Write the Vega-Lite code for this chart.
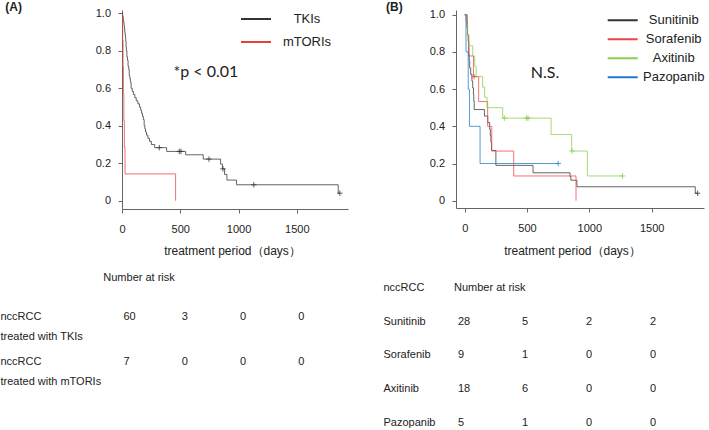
{
  "$schema": "https://vega.github.io/schema/vega-lite/v6.json",
  "autosize": {"type": "none"},
  "padding": {"left": 122, "top": 10, "right": 587, "bottom": 420},
  "background": "white",
  "config": {
    "view": {"stroke": null},
    "font": "Liberation Sans",
    "axis": {
      "domainColor": "#666666", "tickColor": "#666666", "labelColor": "#222222",
      "labelFont": "Liberation Sans", "labelFontSize": 11, "titleColor": "#222222",
      "titleFont": "Liberation Sans", "titleFontSize": 12, "titleFontWeight": "normal", "grid": false,
      "labelOverlap": false
    },
    "legend": {
      "orient": "none", "title": null, "symbolType": "stroke", "symbolSize": 900,
      "symbolStrokeWidth": 2, "symbolOpacity": 1, "labelAlign": "center", "labelOffset": 35,
      "labelFontSize": 13, "labelFont": "Liberation Sans", "labelColor": "#222222"
    }
  },
  "datasets": {
    "kmA": [
      {"group": "TKIs", "t": 0, "s": 1.0}, {"group": "TKIs", "t": 5, "s": 0.983}, {"group": "TKIs", "t": 10, "s": 0.967},
      {"group": "TKIs", "t": 14, "s": 0.95}, {"group": "TKIs", "t": 18, "s": 0.933}, {"group": "TKIs", "t": 21, "s": 0.917},
      {"group": "TKIs", "t": 24, "s": 0.9}, {"group": "TKIs", "t": 27, "s": 0.883}, {"group": "TKIs", "t": 30, "s": 0.867},
      {"group": "TKIs", "t": 32, "s": 0.85}, {"group": "TKIs", "t": 35, "s": 0.817}, {"group": "TKIs", "t": 38, "s": 0.8},
      {"group": "TKIs", "t": 42, "s": 0.767}, {"group": "TKIs", "t": 47, "s": 0.75}, {"group": "TKIs", "t": 52, "s": 0.717},
      {"group": "TKIs", "t": 58, "s": 0.7}, {"group": "TKIs", "t": 62, "s": 0.667}, {"group": "TKIs", "t": 68, "s": 0.65},
      {"group": "TKIs", "t": 72, "s": 0.633}, {"group": "TKIs", "t": 78, "s": 0.6}, {"group": "TKIs", "t": 88, "s": 0.583},
      {"group": "TKIs", "t": 98, "s": 0.567}, {"group": "TKIs", "t": 110, "s": 0.55}, {"group": "TKIs", "t": 122, "s": 0.533},
      {"group": "TKIs", "t": 136, "s": 0.517}, {"group": "TKIs", "t": 150, "s": 0.5}, {"group": "TKIs", "t": 160, "s": 0.483},
      {"group": "TKIs", "t": 168, "s": 0.467}, {"group": "TKIs", "t": 176, "s": 0.45}, {"group": "TKIs", "t": 183, "s": 0.433},
      {"group": "TKIs", "t": 190, "s": 0.4}, {"group": "TKIs", "t": 196, "s": 0.383}, {"group": "TKIs", "t": 202, "s": 0.367},
      {"group": "TKIs", "t": 210, "s": 0.35}, {"group": "TKIs", "t": 222, "s": 0.333}, {"group": "TKIs", "t": 236, "s": 0.317},
      {"group": "TKIs", "t": 252, "s": 0.3}, {"group": "TKIs", "t": 280, "s": 0.283}, {"group": "TKIs", "t": 383, "s": 0.263},
      {"group": "TKIs", "t": 546, "s": 0.245}, {"group": "TKIs", "t": 697, "s": 0.222}, {"group": "TKIs", "t": 846, "s": 0.195},
      {"group": "TKIs", "t": 862, "s": 0.17}, {"group": "TKIs", "t": 880, "s": 0.14}, {"group": "TKIs", "t": 900, "s": 0.11},
      {"group": "TKIs", "t": 983, "s": 0.085}, {"group": "TKIs", "t": 1855, "s": 0.04}, {"group": "TKIs", "t": 1869, "s": 0.04},
      {"group": "mTORIs", "t": 0, "s": 1.0}, {"group": "mTORIs", "t": 6, "s": 0.857}, {"group": "mTORIs", "t": 9, "s": 0.714},
      {"group": "mTORIs", "t": 12, "s": 0.571}, {"group": "mTORIs", "t": 16, "s": 0.429}, {"group": "mTORIs", "t": 20, "s": 0.286},
      {"group": "mTORIs", "t": 26, "s": 0.143}, {"group": "mTORIs", "t": 460, "s": 0.0}
    ],
    "censA": [
      {"group": "TKIs", "t": 320, "s": 0.283}, {"group": "TKIs", "t": 491, "s": 0.263}, {"group": "TKIs", "t": 506, "s": 0.263},
      {"group": "TKIs", "t": 746, "s": 0.222}, {"group": "TKIs", "t": 866, "s": 0.17}, {"group": "TKIs", "t": 1131, "s": 0.085},
      {"group": "TKIs", "t": 1869, "s": 0.04}
    ],
    "kmB": [
      {"group": "Sunitinib", "t": 0, "s": 1.0}, {"group": "Sunitinib", "t": 12, "s": 0.964}, {"group": "Sunitinib", "t": 18, "s": 0.929},
      {"group": "Sunitinib", "t": 22, "s": 0.893}, {"group": "Sunitinib", "t": 28, "s": 0.857}, {"group": "Sunitinib", "t": 33, "s": 0.821},
      {"group": "Sunitinib", "t": 34, "s": 0.786}, {"group": "Sunitinib", "t": 36, "s": 0.75}, {"group": "Sunitinib", "t": 40, "s": 0.714},
      {"group": "Sunitinib", "t": 48, "s": 0.679}, {"group": "Sunitinib", "t": 58, "s": 0.643}, {"group": "Sunitinib", "t": 64, "s": 0.607},
      {"group": "Sunitinib", "t": 70, "s": 0.571}, {"group": "Sunitinib", "t": 73, "s": 0.536}, {"group": "Sunitinib", "t": 76, "s": 0.49},
      {"group": "Sunitinib", "t": 158, "s": 0.455}, {"group": "Sunitinib", "t": 185, "s": 0.42}, {"group": "Sunitinib", "t": 200, "s": 0.385},
      {"group": "Sunitinib", "t": 205, "s": 0.35}, {"group": "Sunitinib", "t": 210, "s": 0.315}, {"group": "Sunitinib", "t": 215, "s": 0.27},
      {"group": "Sunitinib", "t": 250, "s": 0.19}, {"group": "Sunitinib", "t": 548, "s": 0.15}, {"group": "Sunitinib", "t": 845, "s": 0.13},
      {"group": "Sunitinib", "t": 852, "s": 0.11}, {"group": "Sunitinib", "t": 900, "s": 0.075}, {"group": "Sunitinib", "t": 1850, "s": 0.04},
      {"group": "Sunitinib", "t": 1869, "s": 0.04},
      {"group": "Sorafenib", "t": 0, "s": 1.0}, {"group": "Sorafenib", "t": 22, "s": 0.889}, {"group": "Sorafenib", "t": 30, "s": 0.778},
      {"group": "Sorafenib", "t": 70, "s": 0.667}, {"group": "Sorafenib", "t": 112, "s": 0.533}, {"group": "Sorafenib", "t": 184, "s": 0.4},
      {"group": "Sorafenib", "t": 217, "s": 0.267}, {"group": "Sorafenib", "t": 393, "s": 0.133}, {"group": "Sorafenib", "t": 893, "s": 0.0},
      {"group": "Axitinib", "t": 0, "s": 1.0}, {"group": "Axitinib", "t": 15, "s": 0.944}, {"group": "Axitinib", "t": 24, "s": 0.889},
      {"group": "Axitinib", "t": 35, "s": 0.833}, {"group": "Axitinib", "t": 64, "s": 0.778}, {"group": "Axitinib", "t": 80, "s": 0.722},
      {"group": "Axitinib", "t": 91, "s": 0.667}, {"group": "Axitinib", "t": 144, "s": 0.611}, {"group": "Axitinib", "t": 160, "s": 0.556},
      {"group": "Axitinib", "t": 179, "s": 0.5}, {"group": "Axitinib", "t": 305, "s": 0.444}, {"group": "Axitinib", "t": 693, "s": 0.356},
      {"group": "Axitinib", "t": 858, "s": 0.267}, {"group": "Axitinib", "t": 984, "s": 0.133}, {"group": "Axitinib", "t": 1267, "s": 0.133},
      {"group": "Pazopanib", "t": 0, "s": 1.0}, {"group": "Pazopanib", "t": 10, "s": 0.8}, {"group": "Pazopanib", "t": 28, "s": 0.6},
      {"group": "Pazopanib", "t": 38, "s": 0.4}, {"group": "Pazopanib", "t": 123, "s": 0.2}, {"group": "Pazopanib", "t": 750, "s": 0.2}
    ],
    "censB": [
      {"group": "Sunitinib", "t": 1869, "s": 0.04},
      {"group": "Sorafenib", "t": 75, "s": 0.667},
      {"group": "Axitinib", "t": 318, "s": 0.444}, {"group": "Axitinib", "t": 497, "s": 0.444}, {"group": "Axitinib", "t": 508, "s": 0.444},
      {"group": "Axitinib", "t": 860, "s": 0.267}, {"group": "Axitinib", "t": 1267, "s": 0.133},
      {"group": "Pazopanib", "t": 750, "s": 0.2}
    ],
    "riskA": [
      {"row": "nccRCC|treated with TKIs", "t": 0, "n": 60}, {"row": "nccRCC|treated with TKIs", "t": 500, "n": 3},
      {"row": "nccRCC|treated with TKIs", "t": 1000, "n": 0}, {"row": "nccRCC|treated with TKIs", "t": 1500, "n": 0},
      {"row": "nccRCC|treated with mTORIs", "t": 0, "n": 7}, {"row": "nccRCC|treated with mTORIs", "t": 500, "n": 0},
      {"row": "nccRCC|treated with mTORIs", "t": 1000, "n": 0}, {"row": "nccRCC|treated with mTORIs", "t": 1500, "n": 0}
    ],
    "riskB": [
      {"row": "Sunitinib", "t": 0, "n": 28}, {"row": "Sunitinib", "t": 500, "n": 5}, {"row": "Sunitinib", "t": 1000, "n": 2}, {"row": "Sunitinib", "t": 1500, "n": 2},
      {"row": "Sorafenib", "t": 0, "n": 9}, {"row": "Sorafenib", "t": 500, "n": 1}, {"row": "Sorafenib", "t": 1000, "n": 0}, {"row": "Sorafenib", "t": 1500, "n": 0},
      {"row": "Axitinib", "t": 0, "n": 18}, {"row": "Axitinib", "t": 500, "n": 6}, {"row": "Axitinib", "t": 1000, "n": 0}, {"row": "Axitinib", "t": 1500, "n": 0},
      {"row": "Pazopanib", "t": 0, "n": 5}, {"row": "Pazopanib", "t": 500, "n": 1}, {"row": "Pazopanib", "t": 1000, "n": 0}, {"row": "Pazopanib", "t": 1500, "n": 0}
    ],
    "notes": [
      {"panel": "A", "label": "*p < 0.01", "header": "Number at risk", "tag": "(A)"},
      {"panel": "B", "label": "N.S.", "header": "Number at risk", "tag": "(B)"}
    ]
  },
  "bounds": "flush",
  "columns": 2,
  "spacing": {"column": 108, "row": 62.15},
  "resolve": {"scale": {"color": "independent", "stroke": "independent", "x": "independent", "y": "independent"}, "legend": {"color": "independent"}},
  "concat": [
    {
      "width": 226,
      "height": 199,
      "layer": [
        {
          "data": {"name": "kmA"},
          "mark": {"type": "line", "interpolate": "step-after", "strokeWidth": 1, "opacity": 0.75},
          "encoding": {
            "x": {"field": "t", "type": "quantitative", "scale": {"domain": [0, 1939], "nice": false, "zero": false},
              "axis": {"values": [0, 500, 1000, 1500], "tickCount": 10, "format": "d", "title": "treatment period（days）", "titleX": 110, "titleY": 41.7, "titleBaseline": "middle", "titleAlign": "center", "titleAnchor": null, "tickSize": 4, "labelPadding": 10, "labelFlush": false, "labelOverlap": false}},
            "y": {"field": "s", "type": "quantitative", "scale": {"domain": [-0.0443, 1.0176], "nice": false, "zero": false},
              "axis": {"values": [0, 0.2, 0.4, 0.6, 0.8, 1], "tickCount": 10, "labelExpr": "datum.value == 0 ? '0' : format(datum.value, '.1f')", "title": null, "tickSize": 4, "labelPadding": 7.5, "labelFlush": false, "labelOverlap": false, "labelBound": false}},
            "color": {"field": "group", "type": "nominal", "scale": {"domain": ["TKIs", "mTORIs"], "range": ["#333333", "#e8413b"]},
              "legend": {"legendX": 118, "legendY": -1.35, "clipHeight": 20.7}}
          }
        },
        {
          "data": {"name": "censA"},
          "mark": {"type": "point", "shape": "M-1,0L1,0M0,-1L0,1", "filled": false, "size": 30, "strokeWidth": 1, "opacity": 0.8},
          "encoding": {
            "x": {"field": "t", "type": "quantitative"},
            "y": {"field": "s", "type": "quantitative"},
            "stroke": {"field": "group", "type": "nominal", "scale": {"domain": ["TKIs", "mTORIs"], "range": ["#333333", "#e8413b"]}, "legend": null}
          }
        },
        {
          "data": {"name": "notes"},
          "transform": [{"filter": "datum.panel == 'A'"}],
          "mark": {"type": "text", "font": "Lato", "fontSize": 16, "color": "#222222"},
          "encoding": {"x": {"datum": 720}, "y": {"datum": 0.688}, "text": {"field": "label"}}
        },
        {
          "data": {"name": "notes"},
          "transform": [{"filter": "datum.panel == 'A'"}],
          "mark": {"type": "text", "align": "left", "baseline": "middle", "dx": -116.7, "dy": -6, "fontSize": 12, "fontWeight": "bold", "color": "#222222"},
          "encoding": {"x": {"datum": 0}, "y": {"datum": 1}, "text": {"field": "tag"}}
        }
      ]
    },
    {
      "width": 248,
      "height": 198,
      "layer": [
        {
          "data": {"name": "kmB"},
          "mark": {"type": "line", "interpolate": "step-after", "strokeWidth": 1, "opacity": 0.75},
          "encoding": {
            "x": {"field": "t", "type": "quantitative", "scale": {"domain": [-70, 1920], "nice": false, "zero": false},
              "axis": {"values": [0, 500, 1000, 1500], "tickCount": 10, "format": "d", "title": "treatment period（days）", "titleX": 116, "titleY": 42.5, "titleBaseline": "middle", "titleAlign": "center", "titleAnchor": null, "tickSize": 4, "labelPadding": 10, "labelFlush": false, "labelOverlap": false}},
            "y": {"field": "s", "type": "quantitative", "scale": {"domain": [-0.0392, 1.0253], "nice": false, "zero": false},
              "axis": {"values": [0, 0.2, 0.4, 0.6, 0.8, 1], "tickCount": 10, "labelExpr": "datum.value == 0 ? '0' : format(datum.value, '.1f')", "title": null, "tickSize": 4, "labelPadding": 7.5, "labelFlush": false, "labelOverlap": false, "labelBound": false}},
            "color": {"field": "group", "type": "nominal", "scale": {"domain": ["Sunitinib", "Sorafenib", "Axitinib", "Pazopanib"], "range": ["#333333", "#ee4444", "#86d04a", "#2277cc"]},
              "legend": {"legendX": 150.7, "legendY": 1.9, "clipHeight": 16.8}}
          }
        },
        {
          "data": {"name": "censB"},
          "mark": {"type": "point", "shape": "M-1,0L1,0M0,-1L0,1", "filled": false, "size": 30, "strokeWidth": 1, "opacity": 0.8},
          "encoding": {
            "x": {"field": "t", "type": "quantitative"},
            "y": {"field": "s", "type": "quantitative"},
            "stroke": {"field": "group", "type": "nominal", "scale": {"domain": ["Sunitinib", "Sorafenib", "Axitinib", "Pazopanib"], "range": ["#333333", "#ee4444", "#86d04a", "#2277cc"]}, "legend": null}
          }
        },
        {
          "data": {"name": "notes"},
          "transform": [{"filter": "datum.panel == 'B'"}],
          "mark": {"type": "text", "font": "Lato", "fontSize": 16, "color": "#222222"},
          "encoding": {"x": {"datum": 644}, "y": {"datum": 0.687}, "text": {"field": "label"}}
        },
        {
          "data": {"name": "notes"},
          "transform": [{"filter": "datum.panel == 'B'"}],
          "mark": {"type": "text", "align": "left", "baseline": "middle", "dx": -78.7, "dy": -7.7, "fontSize": 12, "fontWeight": "bold", "color": "#222222"},
          "encoding": {"x": {"datum": 0}, "y": {"datum": 1}, "text": {"field": "tag"}}
        }
      ]
    },
    {
      "width": 226,
      "height": 136.8,
      "layer": [
        {
          "data": {"name": "riskA"},
          "mark": {"type": "text", "align": "left", "dx": 1.5, "fontSize": 11, "color": "#222222"},
          "encoding": {
            "x": {"field": "t", "type": "quantitative", "scale": {"domain": [0, 1939], "nice": false, "zero": false}, "axis": null},
            "y": {"field": "row", "type": "nominal", "scale": {"type": "band", "domain": ["nccRCC|treated with TKIs", "nccRCC|treated with mTORIs"], "paddingInner": 0, "paddingOuter": 0.5},
              "axis": {"title": null, "domain": false, "ticks": false, "tickSize": 0, "labelAlign": "left", "labelPadding": 122, "labelExpr": "split(datum.label, '|')", "labelLineHeight": 20, "labelBaseline": "middle", "labelLimit": 0, "labelColor": "#222222"}},
            "text": {"field": "n", "type": "quantitative"}
          }
        },
        {
          "data": {"name": "notes"},
          "transform": [{"filter": "datum.panel == 'A'"}],
          "mark": {"type": "text", "align": "left", "dx": -18.7, "dy": -38.4, "fontSize": 11, "color": "#222222"},
          "encoding": {"x": {"datum": 0}, "y": {"datum": "nccRCC|treated with TKIs", "type": "nominal"}, "text": {"field": "header"}}
        }
      ]
    },
    {
      "width": 248,
      "height": 168.5,
      "layer": [
        {
          "data": {"name": "riskB"},
          "mark": {"type": "text", "align": "left", "fontSize": 11, "color": "#222222"},
          "encoding": {
            "x": {"field": "t", "type": "quantitative", "scale": {"domain": [-15.6, 1922], "nice": false, "zero": false}, "axis": null},
            "y": {"field": "row", "type": "nominal", "scale": {"type": "band", "domain": ["nccRCC", "Sunitinib", "Sorafenib", "Axitinib", "Pazopanib"], "paddingInner": 0, "paddingOuter": 0},
              "axis": {"title": null, "domain": false, "ticks": false, "tickSize": 0, "labelAlign": "left", "labelPadding": 73, "labelBaseline": "middle", "labelLimit": 0, "labelColor": "#222222"}},
            "text": {"field": "n", "type": "quantitative"}
          }
        },
        {
          "data": {"name": "notes"},
          "transform": [{"filter": "datum.panel == 'B'"}],
          "mark": {"type": "text", "align": "left", "dx": -4, "fontSize": 11, "color": "#222222"},
          "encoding": {"x": {"datum": 0}, "y": {"datum": "nccRCC", "type": "nominal"}, "text": {"field": "header"}}
        }
      ]
    }
  ]
}
